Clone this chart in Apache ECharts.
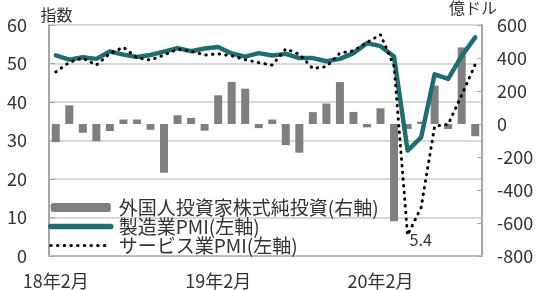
<!DOCTYPE html>
<html>
<head>
<meta charset="utf-8">
<script src="https://cdn.jsdelivr.net/npm/echarts@6/dist/echarts.min.js"></script>
<style>
  html, body { margin: 0; padding: 0; background: #fff; }
  #chart { width: 550px; height: 290px; }
</style>
</head>
<body>
<div id="chart"></div>
<script>
// 月（18年2月〜20年9月）
var months = [
  '18年2月','18年3月','18年4月','18年5月','18年6月','18年7月','18年8月','18年9月','18年10月','18年11月','18年12月',
  '19年1月','19年2月','19年3月','19年4月','19年5月','19年6月','19年7月','19年8月','19年9月','19年10月','19年11月','19年12月',
  '20年1月','20年2月','20年3月','20年4月','20年5月','20年6月','20年7月','20年8月','20年9月'
]
// 外国人投資家株式純投資（億ドル, 右軸）
var foreignInvest = [
  -110, 113, -53, -104, -43, 27, 27, -35, -295, 53, 37,
  -40, 174, 255, 214, -25, 27, -128, -174, 72, 124, 254, 73,
  -20, 95, -590, -30, 14, 233, -30, 464, -74
]
// 製造業PMI（左軸）
var mfgPmi = [
  52.1, 51.0, 51.6, 51.2, 53.1, 52.3, 51.7, 52.2, 53.1, 54.0, 53.2,
  53.9, 54.3, 52.6, 51.8, 52.7, 52.1, 52.5, 51.4, 51.4, 50.6, 51.2, 52.7,
  55.3, 54.5, 51.8, 27.4, 30.8, 47.2, 46.0, 52.0, 56.8
]
// サービス業PMI（左軸）
var svcPmi = [
  47.8, 50.3, 51.4, 49.6, 52.6, 54.2, 51.5, 50.9, 52.2, 53.7, 53.2,
  52.2, 52.5, 52.0, 51.0, 50.2, 49.6, 53.8, 52.4, 48.7, 49.2, 52.7, 53.3,
  55.5, 57.5, 49.3, 5.4, 12.6, 33.7, 34.2, 41.8, 49.8
]

var font = '"Noto Sans CJK JP", "Noto Sans", sans-serif'
var minIdx = svcPmi.indexOf(Math.min.apply(null, svcPmi))
// 凡例の線アイコンに丸印を出さない
var noMark = { color: 'rgba(0,0,0,0)', borderColor: 'rgba(0,0,0,0)', borderWidth: 0 }

var myChart = echarts.init(document.getElementById('chart'))
myChart.setOption({
  animation: false,
  textStyle: { fontFamily: font },
  grid: { left: 49, right: 68, top: 25, bottom: 33 },
  legend: {
    orient: 'vertical',
    left: 48,
    top: 198,
    padding: 0,
    itemWidth: 60,
    itemHeight: 9,
    itemGap: 0,
    textStyle: { fontSize: 19, color: '#333', lineHeight: 18.5, padding: [0, 0, 0, 3], fontFamily: font },
    data: [
      { name: '外国人投資家株式純投資(右軸)' },
      { name: '製造業PMI(左軸)', itemStyle: noMark, lineStyle: { width: 5.5, cap: 'round' } },
      { name: 'サービス業PMI(左軸)', itemStyle: noMark, lineStyle: { width: 3, cap: 'round', type: [0.5, 6.2] } }
    ]
  },
  xAxis: {
    type: 'category',
    data: months,
    axisLine: { lineStyle: { color: '#bfbfbf', width: 2 } },
    axisTick: { inside: true, length: 4, interval: 11, lineStyle: { color: '#bfbfbf' } },
    axisLabel: { interval: 11, fontSize: 18, color: '#333', margin: 16 }
  },
  yAxis: [
    {
      type: 'value',
      min: 0, max: 60, interval: 10,
      name: '指数',
      nameLocation: 'end',
      nameGap: 2,
      nameTextStyle: { fontSize: 16, color: '#333', padding: [0, 0, 0, 15] },
      axisLine: { show: true, lineStyle: { color: '#a6a6a6', width: 2 } },
      axisTick: { show: true, inside: true, length: 6, lineStyle: { color: '#a6a6a6' } },
      axisLabel: { fontSize: 18, color: '#333', margin: 22 },
      splitLine: { lineStyle: { color: '#d9d9d9', width: 2 } }
    },
    {
      type: 'value',
      min: -800, max: 600, interval: 200,
      name: '億ドル',
      nameLocation: 'end',
      nameGap: 2,
      nameTextStyle: { fontSize: 16, color: '#333', padding: [0, 18, 0, 0] },
      axisLine: { show: true, lineStyle: { color: '#a6a6a6', width: 2 } },
      axisTick: { show: true, inside: true, length: 5, lineStyle: { color: '#a6a6a6' } },
      axisLabel: { fontSize: 18, color: '#333', margin: 15 },
      splitLine: { show: false }
    }
  ],
  series: [
    {
      name: '外国人投資家株式純投資(右軸)',
      type: 'bar',
      yAxisIndex: 1,
      barWidth: 8,
      itemStyle: { color: '#7f7f7f' },
      data: foreignInvest
    },
    {
      name: '製造業PMI(左軸)',
      type: 'line',
      yAxisIndex: 0,
      symbol: 'none',
      lineStyle: { color: '#1f6e6e', width: 4.5, cap: 'round', join: 'round' },
      itemStyle: { color: '#1f6e6e' },
      data: mfgPmi
    },
    {
      name: 'サービス業PMI(左軸)',
      type: 'line',
      yAxisIndex: 0,
      symbol: 'none',
      lineStyle: { color: '#000', width: 3, type: [0.5, 6.2], cap: 'round' },
      itemStyle: { color: '#000' },
      data: svcPmi,
      markPoint: {
        symbol: 'circle',
        symbolSize: 0,
        silent: true,
        label: { show: true, position: 'right', distance: 2, offset: [0, 5], fontSize: 16, color: '#333', formatter: '{c}' },
        data: [{ coord: [minIdx, svcPmi[minIdx]], value: svcPmi[minIdx] }]
      }
    }
  ]
})
</script>
</body>
</html>
